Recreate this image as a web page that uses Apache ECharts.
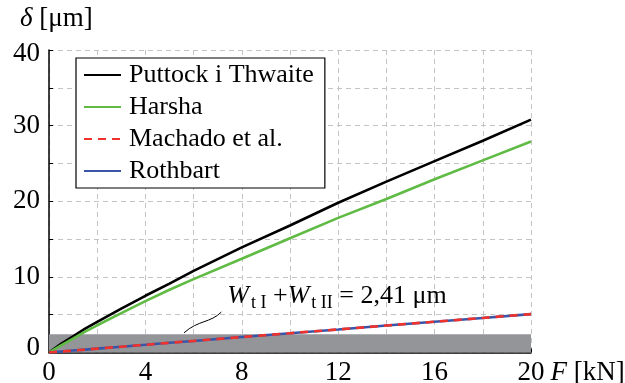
<!DOCTYPE html>
<html>
<head>
<meta charset="utf-8">
<script src="https://cdn.jsdelivr.net/npm/echarts@6/dist/echarts.min.js"></script>
<style>
  html, body { margin: 0; padding: 0; background: #fff; }
  #chart { width: 625px; height: 383px; }
</style>
</head>
<body>
<div id="chart"></div>
<script>
// Load F [kN] against deformation delta [µm] for four contact models
const forceKN   = [0, 0.5, 1, 1.5, 2, 3, 4, 5, 6, 8, 10, 12, 14, 16, 18, 20];
const puttock   = [0, 1.15, 2.15, 3.15, 4.05, 5.8, 7.5, 9.1, 10.8, 13.9, 16.8, 19.8, 22.6, 25.3, 28.0, 30.8];
const harsha    = [0, 0.95, 1.85, 2.75, 3.6, 5.2, 6.8, 8.3, 9.7, 12.4, 15.1, 17.8, 20.3, 22.9, 25.4, 27.9];
const machado   = [0, 0.13, 0.26, 0.38, 0.51, 0.77, 1.02, 1.28, 1.53, 2.04, 2.55, 3.05, 3.56, 4.07, 4.57, 5.08];
const rothbart  = [0, 0.13, 0.26, 0.38, 0.51, 0.77, 1.02, 1.28, 1.53, 2.04, 2.55, 3.05, 3.56, 4.07, 4.57, 5.08];
const roughnessSum = 2.41;   // W_tI + W_tII [µm]
const xTicks = [0, 4, 8, 12, 16, 20];
const yTicks = [0, 10, 20, 30, 40];
const seriesNames = ['Puttock i Thwaite', 'Harsha', 'Machado et al.', 'Rothbart'];

const pairs = ys => forceKN.map((f, i) => [f, ys[i]]);
const SERIF = '"Liberation Serif", "Times New Roman", serif';
const AXIS_FS = 27;

const chart = echarts.init(document.getElementById('chart'), null, { renderer: 'canvas' });

const gridLine = { show: true, lineStyle: { color: '#c4c4c4', type: [5, 4], width: 1 } };
const tickText = { fontFamily: SERIF, fontSize: AXIS_FS, color: '#000' };
const curve = { type: 'line', symbol: 'none', smooth: false };

chart.setOption({
  animation: false,
  textStyle: { fontFamily: SERIF, color: '#000' },
  grid: { left: 49, right: 94, top: 50, bottom: 30.5, containLabel: false, outerBoundsMode: 'none' },
  legend: {
    data: seriesNames,
    orient: 'vertical',
    left: 76, top: 58,
    backgroundColor: '#fff',
    borderColor: '#000', borderWidth: 1.2, borderRadius: 0,
    padding: [4, 11, 4, 7],
    itemWidth: 37, itemHeight: 14, itemGap: 6,
    itemStyle: { opacity: 0, borderWidth: 0 },
    textStyle: { fontFamily: SERIF, fontSize: 26, color: '#000', lineHeight: 26, padding: [0, 0, 0, 3] },
    z: 10
  },
  xAxis: {
    type: 'value', min: 0, max: 20, interval: 2,
    axisLine: { show: true, lineStyle: { color: '#000', width: 1.5 } },
    axisTick: { show: true, inside: true, length: 4, lineStyle: { color: '#000' } },
    axisLabel: Object.assign({}, tickText, {
      margin: 7,
      formatter: v => xTicks.includes(v) ? String(v) : ''
    }),
    splitLine: gridLine,
    name: '{i|F} [kN]',
    nameLocation: 'end', nameGap: 16,
    nameTextStyle: {
      fontFamily: SERIF, fontSize: AXIS_FS, color: '#000',
      verticalAlign: 'top', padding: [7, 0, 0, 0],
      rich: { i: { fontFamily: SERIF, fontSize: AXIS_FS, fontStyle: 'italic', color: '#000' } }
    }
  },
  yAxis: {
    type: 'value', min: 0, max: 40, interval: 5,
    axisLine: { show: true, lineStyle: { color: '#000', width: 1.5 } },
    axisTick: { show: true, inside: true, length: 4, lineStyle: { color: '#000' } },
    axisLabel: Object.assign({}, tickText, {
      margin: 9,
      // end labels are nudged inward, away from the corners
      formatter: v => v === 40 ? '{top|40}' : v === 0 ? '{bot|0}' : (yTicks.includes(v) ? String(v) : ''),
      rich: {
        top: Object.assign({}, tickText, { padding: [8, 0, 0, 0] }),
        bot: Object.assign({}, tickText, { padding: [0, 0, 10, 0] })
      }
    }),
    splitLine: gridLine,
    name: '{i|δ} [μm]',
    nameLocation: 'end', nameGap: 18,
    nameTextStyle: {
      fontFamily: SERIF, fontSize: AXIS_FS, color: '#000',
      align: 'left', padding: [0, 0, 0, -29],
      rich: { i: { fontFamily: SERIF, fontSize: AXIS_FS, fontStyle: 'italic', color: '#000' } }
    }
  },
  series: [
    {
      // shaded band: combined surface roughness
      name: 'band', type: 'line', data: [], z: -1, silent: true,
      markArea: {
        silent: true,
        itemStyle: { color: '#939598' },
        data: [[{ xAxis: 0, yAxis: 0 }, { xAxis: 20, yAxis: roughnessSum }]]
      }
    },
    Object.assign({}, curve, {
      name: seriesNames[0], data: pairs(puttock),
      lineStyle: { color: '#000', width: 2.6 }, itemStyle: { color: '#000' }, z: 3
    }),
    Object.assign({}, curve, {
      name: seriesNames[1], data: pairs(harsha),
      lineStyle: { color: '#5fbb44', width: 2.6 }, itemStyle: { color: '#5fbb44' }, z: 3
    }),
    Object.assign({}, curve, {
      name: seriesNames[3], data: pairs(rothbart),
      lineStyle: { color: '#3a55a8', width: 2.6 }, itemStyle: { color: '#3a55a8' }, z: 3
    }),
    Object.assign({}, curve, {
      name: seriesNames[2], data: pairs(machado),
      lineStyle: { color: '#f0322d', width: 2.6, type: [8, 6] }, itemStyle: { color: '#f0322d' }, z: 4
    })
  ]
});

// Annotation for the shaded band, placed in data coordinates
const px = (f, d) => chart.convertToPixel({ gridIndex: 0 }, [f, d]);
const t0 = px(7.4, 7.45);
const a = px(5.6, 2.6), c1 = px(6.2, 4.3), c2 = px(6.7, 3.9), b = px(7.15, 5.35);
chart.setOption({
  graphic: [
    {
      type: 'text', x: t0[0], y: t0[1], z: 20,
      style: {
        text: '{w|W}{s|t I}{n| +}{w|W}{s|t II}{n| = 2,41 μm}',
        verticalAlign: 'middle', align: 'left',
        fontFamily: SERIF,
        rich: {
          w: { fontFamily: SERIF, fontSize: 26, fontStyle: 'italic', fill: '#000', lineHeight: 30 },
          n: { fontFamily: SERIF, fontSize: 26, fill: '#000', lineHeight: 30 },
          s: { fontFamily: SERIF, fontSize: 18, fill: '#000', lineHeight: 30, padding: [14, 0, 0, 2] }
        }
      }
    },
    {
      type: 'bezierCurve', z: 20,
      shape: { x1: a[0], y1: a[1], cpx1: c1[0], cpy1: c1[1], cpx2: c2[0], cpy2: c2[1], x2: b[0], y2: b[1] },
      style: { stroke: '#000', lineWidth: 1, fill: null }
    }
  ]
});
</script>
</body>
</html>
